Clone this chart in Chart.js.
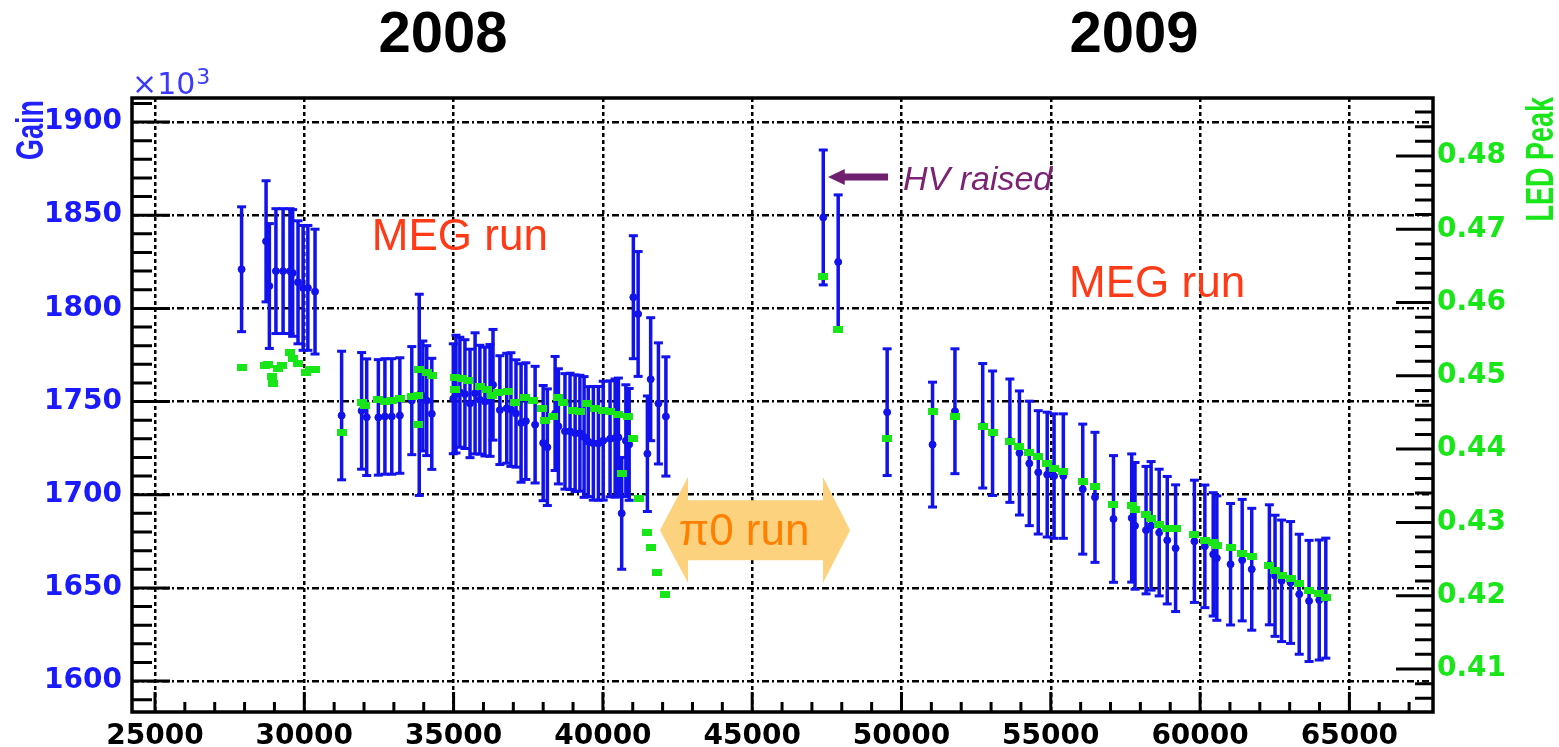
<!DOCTYPE html>
<html lang="en">
<head>
<meta charset="UTF-8">
<title>Gain and LED peak vs run</title>
<script src="https://cdn.jsdelivr.net/npm/chart.js@4.4.0/dist/chart.umd.min.js"></script>
<style>
html, body { margin: 0; padding: 0; background: #fff; }
#wrap { width: 1559px; height: 747px; position: relative; }
</style>
</head>
<body>
<div id="wrap"><canvas id="pizarra"></canvas></div>
<script>
// Gain (x10^3) per run number, with error
const gainRun = [
  27900, 28720, 28830, 29050, 29290, 29520, 29610, 29790, 29960, 30120, 30360,
  31250, 31920, 32090, 32480, 32700, 32930, 33200, 33600, 33850, 33970, 34100, 34270,
  34990, 35080, 35210, 35380, 35550, 35720, 35880, 36050, 36220, 36320, 36550, 36780,
  36920, 37090, 37260, 37420, 37730, 38000, 38140, 38400, 38510, 38730, 38900, 39070,
  39230, 39370, 39510, 39680, 39850, 40010, 40240, 40410, 40520, 40630, 40770, 40880,
  41020, 41180, 41490, 41600, 41860, 42110,
  47380, 47880, 49520, 51040, 51790, 52720, 53050, 53630, 53950, 54280, 54580, 54880,
  55110, 55420, 56070, 56480, 57100, 57710, 57820, 58190, 58360, 58630, 58900, 59180,
  59810, 60160, 60440, 60560, 61020, 61410, 61730, 62320, 62510, 62730, 63030, 63320,
  63650, 63990, 64210
];
const gainVal = [
  1821, 1836, 1812, 1820, 1820, 1820, 1819, 1814, 1811, 1811, 1809,
  1742.5, 1745, 1741.6, 1741.5, 1742, 1742, 1742.5, 1750.5, 1753.6, 1753, 1750.5, 1743.4,
  1751.5, 1754, 1755, 1754, 1749, 1754.4, 1751, 1750, 1750.6, 1759, 1745.4, 1746.4,
  1745.7, 1743.6, 1738.5, 1739.5, 1737.6, 1727.7, 1725.5, 1743.6, 1736.7, 1734, 1734, 1733,
  1733, 1731, 1728.5, 1727.6, 1727.6, 1729, 1730, 1730.4, 1730.8, 1690, 1729, 1727,
  1806, 1797, 1722, 1762, 1749, 1742,
  1848.8, 1824.9, 1744.3, 1726.9, 1744.8, 1737, 1733, 1729, 1722.4, 1716.8, 1712, 1710.8,
  1710, 1710, 1703, 1698.6, 1687, 1687.5, 1683.3, 1681, 1683.3, 1679.7, 1675.6, 1671.3,
  1675, 1672.3, 1668, 1666, 1662.7, 1664.9, 1660, 1662.4, 1656.5, 1653.8, 1652.9, 1646.6,
  1643, 1643.5, 1644.5
];
const gainErr = [
  33.5, 32.5, 33.5, 33.5, 33.5, 33.5, 34, 33, 33.5, 33.5, 33.5,
  34.5, 31.3, 31.3, 31, 31, 31, 31, 29, 54, 29.5, 29.5, 29.8,
  29.5, 31.6, 29.5, 29.2, 29.1, 32.5, 29.2, 29.2, 30, 29.7, 29.2, 29.5,
  30.5, 28.8, 31.8, 31.3, 31.3, 30.9, 31.3, 30.6, 30.9, 31, 31.2, 31.3,
  31.1, 32.4, 29.5, 30.5, 30.5, 31.9, 31.1, 31.7, 31.8, 30, 30, 30,
  33, 33.5, 31, 33, 32.5, 32,
  36.2, 36, 34, 33.5, 33.5, 33.4, 33.4, 33.1, 33.3, 33.4, 33.1, 33.5,
  33.4, 33.4, 34.9, 34.9, 34, 34.4, 34, 34.2, 34.5, 34, 34.2, 34,
  32.8, 32.9, 33.1, 33.4, 32.6, 32.6, 32.7, 32.2, 32.5, 32.6, 32.7, 32.2,
  32.5, 32.2, 32.2
];

// LED peak per run number
const ledRun = [
  27900, 28680, 28790, 28910, 28960, 29130, 29240, 29520, 29630, 29800, 30060, 30190, 30360,
  31250, 31920, 32030, 32480, 32700, 32930, 33200, 33600, 33820, 33820, 33850, 34100, 34270,
  35050, 35050, 35270, 35490, 35880, 36110, 36280, 36500, 36830, 37060, 37390, 37670, 37950,
  38060, 38340, 38510, 38670, 39010, 39230, 39460, 39740, 40010, 40240, 40520, 40630, 40850,
  41020, 41220, 41470, 41600, 41800, 42080,
  47380, 47880, 49520, 51040, 51790, 52720, 53050, 53630, 53950, 54280, 54580, 54880,
  55110, 55420, 56070, 56480, 57100, 57710, 57820, 58190, 58360, 58630, 58900, 59180,
  59810, 60160, 60440, 60560, 61020, 61410, 61730, 62320, 62510, 62730, 63030, 63320,
  63650, 63990, 64210
];
const ledVal = [
  0.4511, 0.4514, 0.4515, 0.4499, 0.4490, 0.4510, 0.4514, 0.4532, 0.4524, 0.4517, 0.4505, 0.4508, 0.4509,
  0.4423, 0.4463, 0.4459, 0.4468, 0.4465, 0.4467, 0.4469, 0.4472, 0.4473, 0.4434, 0.4509, 0.4505, 0.4500,
  0.4498, 0.4482, 0.4497, 0.4493, 0.4485, 0.4482, 0.4473, 0.4477, 0.4478, 0.4463, 0.4471, 0.4466, 0.4456,
  0.4439, 0.4445, 0.4471, 0.4463, 0.4453, 0.4451, 0.4462, 0.4456, 0.4453, 0.4452, 0.4447, 0.4367, 0.4445,
  0.4415, 0.4332, 0.4286, 0.4266, 0.4231, 0.4201,
  0.4635, 0.4563, 0.4414, 0.4451, 0.4444, 0.4431, 0.4422, 0.4410, 0.4404, 0.4395, 0.4390, 0.4380,
  0.4374, 0.4369, 0.4356, 0.4349, 0.4325, 0.4323, 0.4318, 0.4311, 0.4305, 0.4297, 0.4292, 0.4292,
  0.4284, 0.4275, 0.4272, 0.4268, 0.4266, 0.4257, 0.4253, 0.4241, 0.4234, 0.4227, 0.4223, 0.4216,
  0.4207, 0.4203, 0.4198
];

const xTicks = [25000, 30000, 35000, 40000, 45000, 50000, 55000, 60000, 65000];
const gainTicks = [1600, 1650, 1700, 1750, 1800, 1850, 1900];
const ledTicks = [0.41, 0.42, 0.43, 0.44, 0.45, 0.46, 0.47, 0.48];

const azul = '#1212ec';
const verde = '#19e619';

// green LED marker: small flat rectangle
const ledMarker = document.createElement('canvas');
ledMarker.width = 10;
ledMarker.height = 7;
const mctx = ledMarker.getContext('2d');
mctx.fillStyle = verde;
mctx.fillRect(0, 0, 10, 7);

// error bars as broken line segments: low, high, gap
const errBars = [];
gainRun.forEach((r, i) => {
  errBars.push({x: r, y: gainVal[i] - gainErr[i]});
  errBars.push({x: r, y: gainVal[i] + gainErr[i]});
  errBars.push({x: r, y: null});
});

const tickFont = {family: 'DejaVu Sans', size: 28, weight: 'bold'};

// frame, inward ticks and texts
const decoracion = {
  id: 'decoracion',
  afterDatasetsDraw(chart) {
    const {ctx, scales: {x, y}} = chart;
    ctx.save();

    // pi0 run double arrow
    const yc = y.getPixelForValue(1681);
    const bt = y.getPixelForValue(1697.1), bb = y.getPixelForValue(1664.9);
    const ht = y.getPixelForValue(1709.5), hb = y.getPixelForValue(1652.6);
    const lt = x.getPixelForValue(41910), lb = x.getPixelForValue(42850);
    const rb = x.getPixelForValue(47370), rt = x.getPixelForValue(48280);
    ctx.fillStyle = '#fdd27f';
    ctx.beginPath();
    ctx.moveTo(lt, yc);
    ctx.lineTo(lb, ht); ctx.lineTo(lb, bt); ctx.lineTo(rb, bt); ctx.lineTo(rb, ht);
    ctx.lineTo(rt, yc);
    ctx.lineTo(rb, hb); ctx.lineTo(rb, bb); ctx.lineTo(lb, bb); ctx.lineTo(lb, hb);
    ctx.closePath();
    ctx.fill();
    ctx.fillStyle = '#ff8000';
    ctx.font = '44px "Liberation Sans", Arial, sans-serif';
    ctx.textAlign = 'center';
    ctx.textBaseline = 'alphabetic';
    ctx.fillText('π0 run', x.getPixelForValue(44730), y.getPixelForValue(1673));

    // MEG run labels
    ctx.fillStyle = '#ff3a16';
    ctx.fillText('MEG run', x.getPixelForValue(35210), y.getPixelForValue(1831.3));
    ctx.fillText('MEG run', x.getPixelForValue(58560), y.getPixelForValue(1806));

    // HV raised arrow
    const ha = y.getPixelForValue(1870.5);
    ctx.strokeStyle = '#6e1f6e';
    ctx.fillStyle = '#6e1f6e';
    ctx.lineWidth = 7;
    ctx.beginPath();
    ctx.moveTo(x.getPixelForValue(49550), ha);
    ctx.lineTo(x.getPixelForValue(48010), ha);
    ctx.stroke();
    ctx.beginPath();
    ctx.moveTo(x.getPixelForValue(47540), ha);
    ctx.lineTo(x.getPixelForValue(48100), ha - 8);
    ctx.lineTo(x.getPixelForValue(48100), ha + 8);
    ctx.closePath();
    ctx.fill();
    ctx.fillStyle = '#7b2275';
    ctx.font = 'italic 34px "Liberation Sans", Arial, sans-serif';
    ctx.textAlign = 'left';
    ctx.fillText('HV raised', x.getPixelForValue(50050), y.getPixelForValue(1863.5));
    ctx.restore();
  },
  afterDraw(chart) {
    const {ctx, chartArea: a, scales: {x, y, y1}} = chart;
    ctx.save();
    ctx.strokeStyle = '#000';
    ctx.lineWidth = 3;
    ctx.beginPath();
    for (let v = 1590; v <= 1910; v += 10) {
      const py = y.getPixelForValue(v);
      ctx.moveTo(a.left, py);
      ctx.lineTo(a.left + (v % 50 === 0 ? 38 : 20), py);
    }
    for (let v = 25000; v <= 67000; v += 1000) {
      const px = x.getPixelForValue(v);
      ctx.moveTo(px, a.bottom);
      ctx.lineTo(px, a.bottom - (v % 5000 === 0 ? 20 : 10));
    }
    for (let k = 203; k <= 243; k++) {
      const py = y1.getPixelForValue(k * 0.002);
      ctx.moveTo(a.right, py);
      ctx.lineTo(a.right - (k % 5 === 0 ? 37 : 18), py);
    }
    ctx.stroke();
    ctx.lineWidth = 3.5;
    ctx.strokeRect(a.left, a.top, a.right - a.left, a.bottom - a.top);

    // year titles
    ctx.fillStyle = '#000';
    ctx.font = 'bold 58px "Liberation Sans", Arial, sans-serif';
    ctx.textAlign = 'center';
    ctx.textBaseline = 'alphabetic';
    ctx.fillText('2008', 443, 52);
    ctx.fillText('2009', 1134, 52);

    // x10^3 multiplier
    ctx.fillStyle = '#3a3aff';
    ctx.textAlign = 'left';
    ctx.font = '30px "DejaVu Sans", sans-serif';
    ctx.fillText('×10', 132, 94);
    const w = ctx.measureText('×10').width;
    ctx.font = '22px "DejaVu Sans", sans-serif';
    ctx.fillText('3', 132 + w + 1, 84);

    // axis titles (rotated)
    ctx.font = 'bold 27px "Liberation Sans", Arial, sans-serif';
    ctx.textAlign = 'right';
    ctx.fillStyle = '#2222ff';
    ctx.save();
    ctx.translate(43, 100);
    ctx.rotate(-Math.PI / 2);
    ctx.scale(1, 1.45);
    ctx.fillText('Gain', 0, 0);
    ctx.restore();
    ctx.fillStyle = verde;
    ctx.save();
    ctx.translate(1553, 97);
    ctx.rotate(-Math.PI / 2);
    ctx.scale(1, 1.45);
    ctx.fillText('LED Peak', 0, 0);
    ctx.restore();
    ctx.restore();
  }
};

new Chart(document.getElementById('pizarra'), {
  type: 'scatter',
  data: {
    datasets: [
      {
        label: 'LED Peak',
        data: ledRun.map((r, i) => ({x: r, y: ledVal[i]})),
        yAxisID: 'y1',
        pointStyle: ledMarker,
        pointRadius: 4,
        backgroundColor: verde,
        borderColor: verde
      },
      {
        label: 'Gain',
        data: gainRun.map((r, i) => ({x: r, y: gainVal[i]})),
        yAxisID: 'y',
        pointStyle: 'circle',
        pointRadius: 3.5,
        backgroundColor: azul,
        borderColor: azul
      },
      {
        label: 'Gain error',
        type: 'line',
        data: errBars,
        yAxisID: 'y',
        showLine: true,
        spanGaps: false,
        fill: false,
        borderColor: azul,
        borderWidth: 3.5,
        pointStyle: 'line',
        pointRadius: 4.5,
        pointBorderWidth: 3,
        pointBorderColor: azul,
        pointBackgroundColor: azul
      }
    ]
  },
  options: {
    responsive: true,
    maintainAspectRatio: false,
    animation: false,
    events: [],
    layout: { padding: { top: 98, left: 0, right: 0, bottom: 0 } },
    plugins: {
      legend: { display: false },
      tooltip: { enabled: false }
    },
    scales: {
      x: {
        type: 'linear',
        min: 24230,
        max: 67800,
        afterBuildTicks: s => { s.ticks = xTicks.map(v => ({value: v})); },
        afterFit: s => { s.height = 35; },
        grid: { color: '#000', lineWidth: 2.5, drawTicks: false },
        border: { display: false, dash: [4, 3] },
        ticks: { color: '#000', font: tickFont, padding: 8, maxRotation: 0, autoSkip: false, callback: v => String(v) }
      },
      y: {
        type: 'linear',
        position: 'left',
        min: 1583.4,
        max: 1912.9,
        afterBuildTicks: s => { s.ticks = gainTicks.map(v => ({value: v})); },
        afterFit: s => { s.width = 132; },
        grid: { color: '#000', lineWidth: 2.5, drawTicks: false },
        border: { display: false, dash: [7, 3, 2, 3] },
        ticks: { color: '#1a1aff', font: tickFont, padding: 10, callback: v => String(v) }
      },
      y1: {
        type: 'linear',
        position: 'right',
        min: 0.40413,
        max: 0.48791,
        afterBuildTicks: s => { s.ticks = ledTicks.map(v => ({value: v})); },
        afterFit: s => { s.width = 126; },
        grid: { display: false, drawTicks: false },
        border: { display: false },
        ticks: { color: verde, font: tickFont, padding: 4, callback: v => v.toFixed(2) }
      }
    }
  },
  plugins: [decoracion]
});
</script>
</body>
</html>
